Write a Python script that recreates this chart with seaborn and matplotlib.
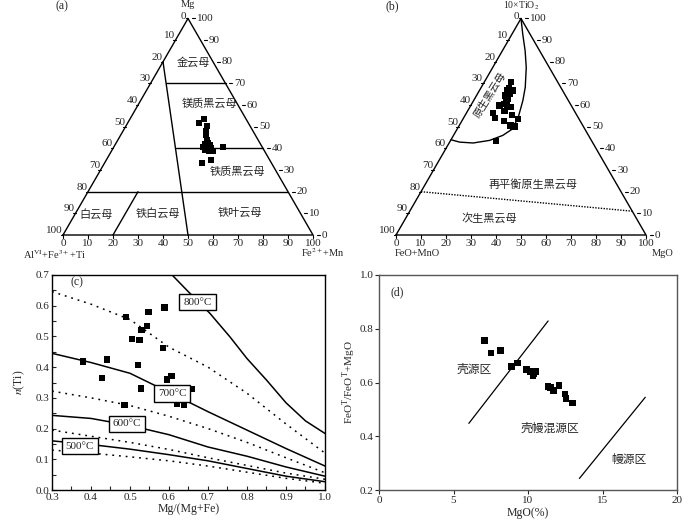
import numpy as np
import pandas as pd
import matplotlib
matplotlib.use("Agg")
import matplotlib.pyplot as plt
import seaborn as sns

sns.set_style("white")
plt.rcParams['font.family'] = ['Liberation Serif', 'Noto Sans CJK SC', 'DejaVu Sans']
plt.rcParams['mathtext.fontset'] = 'stix'
CJK = ['Noto Sans CJK SC', 'DejaVu Sans']
H = np.sqrt(3) / 2

# ---------------- (a) Mg - (AlVI+Fe3++Ti) - (Fe2++Mn) ternary ----------------
a_fe = [28.5, 29.6, 32.4, 33.2, 34.1, 35.6, 35.8, 36.8, 38.0, 35.7, 37.5, 39.1,
        40.6, 39.0, 37.2, 43.7, 39.0, 41.9]
a_mg = [51.7, 53.6, 50.3, 48.0, 46.2, 43.9, 42.0, 42.5, 41.6, 40.6, 40.2, 40.2,
        38.8, 38.8, 39.3, 40.6, 33.3, 34.6]
a_div_fe = [0, 50]          # dividing line (Fe2++Mn, Mg)
a_div_mg = [80, 0]
a_mg_levels = [70, 40, 20]
a_mg_start_fe = [6.25, 25, 0]
a_fe20_fe = [20, 20]
a_fe20_mg = [0, 20]
a_names = ['金云母', '镁质黑云母', '铁质黑云母', '白云母', '铁白云母', '铁叶云母']
a_name_x = [52, 58.4, 69.6, 13.2, 38, 70.8]
a_name_y = [69.2, 52.8, 25.2, 8.4, 8.8, 8.8]

# ---------------- (b) 10xTiO2 - (FeO+MnO) - MgO ternary ----------------
b_mgo = [10.85, 11.2, 13.4, 11.0, 12.8, 11.6, 13.3, 13.1, 13.1, 14.6, 11.5, 16.4,
         10.7, 14.8, 18.6, 12.8, 16.8, 21.9, 20.5, 22.4, 21.8, 18.2]
b_ti = [70.5, 67.9, 66.7, 66.7, 65.2, 64.4, 62.9, 62.1, 60.6, 59.8, 59.8, 59.3,
        56.2, 57.2, 55.5, 53.9, 52.6, 53.7, 50.6, 50.1, 49.8, 43.3]
b_curve_mgo = [0, 4.3, 9.1, 13.4, 17.6, 19.7, 21.5, 22.2, 19.7, 15.6, 9.6, 4.0, 0]
b_curve_ti = [100, 92.8, 85.1, 77.4, 68.2, 62.1, 55.2, 49.1, 46.0, 43.7, 42.5, 42.9, 44.0]
b_dot_mgo = [0, 89]
b_dot_ti = [20, 11]

# ---------------- (c) n(Ti) vs Mg/(Mg+Fe) ----------------
c_x = [0.490, 0.548, 0.588, 0.543, 0.530, 0.505, 0.525, 0.584, 0.379, 0.441,
       0.520, 0.428, 0.595, 0.606, 0.528, 0.659, 0.595, 0.620, 0.639, 0.486]
c_y = [0.564, 0.579, 0.595, 0.534, 0.521, 0.491, 0.488, 0.463, 0.418, 0.425,
       0.407, 0.364, 0.360, 0.371, 0.331, 0.329, 0.295, 0.280, 0.279, 0.277]
c_grid = [0.3, 0.4, 0.5, 0.6, 0.7, 0.8, 0.9, 1.0]
c_800_x = [0.608, 0.65, 0.705, 0.756, 0.80, 0.85, 0.9, 0.95, 1.0]
c_800_y = [0.70, 0.645, 0.575, 0.499, 0.428, 0.358, 0.284, 0.225, 0.184]
c_d1_y = [0.646, 0.605, 0.555, 0.465, 0.40, 0.315, 0.215, 0.12]
c_700_y = [0.445, 0.415, 0.38, 0.318, 0.255, 0.195, 0.135, 0.078]
c_d2_y = [0.322, 0.30, 0.275, 0.24, 0.20, 0.155, 0.105, 0.056]
c_600_y = [0.243, 0.233, 0.21, 0.18, 0.14, 0.11, 0.075, 0.045]
c_d3_y = [0.195, 0.175, 0.155, 0.132, 0.105, 0.08, 0.055, 0.035]
c_500_y = [0.16, 0.148, 0.133, 0.115, 0.095, 0.07, 0.045, 0.027]
c_d4_y = [0.13, 0.12, 0.108, 0.095, 0.078, 0.058, 0.038, 0.022]
c_temps = ['800°C', '700°C', '600°C', '500°C']
c_temp_x = [0.673, 0.608, 0.492, 0.371]
c_temp_y = [0.612, 0.313, 0.215, 0.143]

# ---------------- (d) FeOT/(FeOT+MgO) vs MgO ----------------
d_mgo = [7.08, 7.52, 8.17, 8.88, 9.28, 9.90, 10.16, 10.35, 10.54, 10.40,
         11.35, 11.52, 11.70, 12.08, 12.48, 12.55, 13.0]
d_ratio = [0.756, 0.709, 0.719, 0.659, 0.672, 0.648, 0.640, 0.624, 0.640, 0.633,
           0.586, 0.582, 0.570, 0.589, 0.557, 0.541, 0.523]
d_line1_x = [6.03, 11.35]
d_line1_y = [0.448, 0.829]
d_line2_x = [13.45, 17.87]
d_line2_y = [0.243, 0.545]
d_names = ['壳源区', '壳幔混源区', '幔源区']
d_name_x = [6.4, 11.5, 16.75]
d_name_y = [0.649, 0.429, 0.312]


def cart(r, t):
    r = np.asarray(r, float)
    t = np.asarray(t, float)
    return r + t / 2, t * H


def tline(ax, r, t, **kw):
    x, y = cart(r, t)
    df = pd.DataFrame({'x': x, 'y': y})
    sns.lineplot(data=df, x='x', y='y', ax=ax, sort=False, estimator=None,
                 legend=False, **kw)


def frame(ax):
    ax.set_xlim(-20, 112)
    ax.set_ylim(-10, 94)
    ax.axis('off')
    tline(ax, [0, 100, 0, 0], [0, 0, 100, 0], color='black', lw=1.0)
    for v in range(0, 101, 10):
        ax.plot([v, v], [0, -1.0], color='black', lw=0.8)
        ax.text(v, -3.4, str(v), ha='center', va='center', fontsize=8)
        lx, ly = cart(0, 100 - v)
        ax.plot([lx, lx - 1.0], [ly, ly], color='black', lw=0.8)
        dy = 0.9 if v == 0 else 1.8
        dx = 0.8 if v == 0 else 0.2
        ax.text(lx - dx, ly + dy, str(v), ha='right', va='center', fontsize=8)
        rx, ry = cart(100 - v, v)
        ax.plot([rx + 1.4, rx + 2.6], [ry, ry], color='black', lw=0.8)
        ax.text(rx + 3.4, ry, str(v), ha='left', va='center', fontsize=8)


fig = plt.figure(figsize=(7, 5.2), dpi=100)

# ---- (a)
axa = fig.add_axes([13 / 700, 0.5, 330 / 700, 0.5])
frame(axa)
tline(axa, a_div_fe, a_div_mg, color='black', lw=1.0)
for mg, fs in zip(a_mg_levels, a_mg_start_fe):
    tline(axa, [fs, 100 - mg], [mg, mg], color='black', lw=1.0)
tline(axa, a_fe20_fe, a_fe20_mg, color='black', lw=1.0)
ax_, ay_ = cart(a_fe, a_mg)
sns.scatterplot(x=ax_, y=ay_, ax=axa, marker='s', color='black', s=20,
                edgecolor='none', legend=False)
for n, x, y in zip(a_names, a_name_x, a_name_y):
    axa.text(x, y, n, ha='center', va='center', fontsize=8, family=CJK)
axa.text(50, 92.2, 'Mg', ha='center', va='center', fontsize=7.5)
axa.text(-0.4, 91.5, '(a)', ha='center', va='center', fontsize=8.5)
axa.text(-3.2, -8.0, r'Al$^{\rm VI}$+Fe$^{3+}$+Ti', ha='center', va='center', fontsize=7.5)
axa.text(104, -7.2, r'Fe$^{2+}$+Mn', ha='center', va='center', fontsize=7.5)

# ---- (b)
axb = fig.add_axes([346 / 700, 0.5, 330 / 700, 0.5])
frame(axb)
tline(axb, b_curve_mgo, b_curve_ti, color='black', lw=1.0)
tline(axb, b_dot_mgo, b_dot_ti, color='black', lw=1.0, linestyle=(0, (1, 1)))
bx_, by_ = cart(b_mgo, b_ti)
sns.scatterplot(x=bx_, y=by_, ax=axb, marker='s', color='black', s=20,
                edgecolor='none', legend=False)
axb.text(37.6, 56.0, '原生黑云母', ha='center', va='center', fontsize=7.5,
         family=CJK, rotation=58)
axb.text(54.8, 20.4, '再平衡原生黑云母', ha='center', va='center', fontsize=8, family=CJK)
axb.text(37.2, 6.8, '次生黑云母', ha='center', va='center', fontsize=8, family=CJK)
axb.text(50, 91.8, r'10×TiO$_2$', ha='center', va='center', fontsize=7)
axb.text(-1.6, 91.5, '(b)', ha='center', va='center', fontsize=8.5)
axb.text(8.4, -7.2, 'FeO+MnO', ha='center', va='center', fontsize=7.5)
axb.text(106.8, -7.4, 'MgO', ha='center', va='center', fontsize=7.5)

# ---- (c)
axc = fig.add_axes([52 / 700, 30 / 520, 273 / 700, 215 / 520])
dot = (0, (1.2, 3.2))
sns.lineplot(x=c_800_x, y=c_800_y, ax=axc, color='black', lw=1.1, sort=False, estimator=None)
for ys, ls in [(c_d1_y, dot), (c_700_y, '-'), (c_d2_y, dot), (c_600_y, '-'),
               (c_d3_y, dot), (c_500_y, '-'), (c_d4_y, dot)]:
    sns.lineplot(x=c_grid, y=ys, ax=axc, color='black', lw=1.1, linestyle=ls,
                 sort=False, estimator=None)
sns.scatterplot(x=c_x, y=c_y, ax=axc, marker='s', color='black', s=22,
                edgecolor='none', legend=False, zorder=5)
for t, x, y in zip(c_temps, c_temp_x, c_temp_y):
    axc.text(x, y, t, ha='center', va='center', fontsize=8, zorder=6,
             bbox=dict(boxstyle='square,pad=0.35', fc='white', ec='black', lw=1.0))
axc.text(0.365, 0.675, '(c)', ha='center', va='center', fontsize=8.5)
axc.set_xlim(0.3, 1.0)
axc.set_ylim(0.0, 0.7)
axc.set_xticks(np.arange(0.3, 1.01, 0.1))
axc.set_xticks(np.arange(0.35, 1.0, 0.1), minor=True)
axc.set_yticks(np.arange(0.0, 0.71, 0.1))
axc.set_yticks(np.arange(0.05, 0.7, 0.1), minor=True)
axc.set_xticklabels([f'{v:.1f}' for v in np.arange(0.3, 1.01, 0.1)])
axc.set_yticklabels([f'{v:.1f}' for v in np.arange(0.0, 0.71, 0.1)])
axc.tick_params(which='both', direction='in', length=3, width=0.8, labelsize=8,
                bottom=True, left=True, top=False, right=False, pad=2)
axc.set_xlabel('Mg/(Mg+Fe)', fontsize=8.5, labelpad=1)
axc.set_ylabel(r'$n$(Ti)', fontsize=8.5, labelpad=6)
for s in axc.spines.values():
    s.set_linewidth(1.0)
    s.set_color('black')

# ---- (d)
axd = fig.add_axes([379 / 700, 30 / 520, 298 / 700, 215 / 520])
sns.lineplot(x=d_line1_x, y=d_line1_y, ax=axd, color='black', lw=0.9, sort=False, estimator=None)
sns.lineplot(x=d_line2_x, y=d_line2_y, ax=axd, color='black', lw=0.9, sort=False, estimator=None)
sns.scatterplot(x=d_mgo, y=d_ratio, ax=axd, marker='s', color='black', s=22,
                edgecolor='none', legend=False, zorder=5)
for n, x, y in zip(d_names, d_name_x, d_name_y):
    axd.text(x, y, n, ha='center', va='center', fontsize=8.5, family=CJK)
axd.text(1.2, 0.935, '(d)', ha='center', va='center', fontsize=8.5)
axd.set_xlim(0, 20)
axd.set_ylim(0.2, 1.0)
axd.set_xticks([0, 5, 10, 15, 20])
axd.set_yticks([0.2, 0.4, 0.6, 0.8, 1.0])
axd.set_yticklabels(['0.2', '0.4', '0.6', '0.8', '1.0'])
axd.tick_params(direction='out', length=3, width=0.8, labelsize=8,
                bottom=True, left=True, pad=1)
axd.set_xlabel('MgO(%)', fontsize=8.5, labelpad=2)
axd.set_ylabel(r'FeO$^{\rm T}$/FeO$^{\rm T}$+MgO', fontsize=8, labelpad=1)
for s in axd.spines.values():
    s.set_linewidth(1.0)
    s.set_color('#555555')

fig.savefig('out.png', dpi=100)
